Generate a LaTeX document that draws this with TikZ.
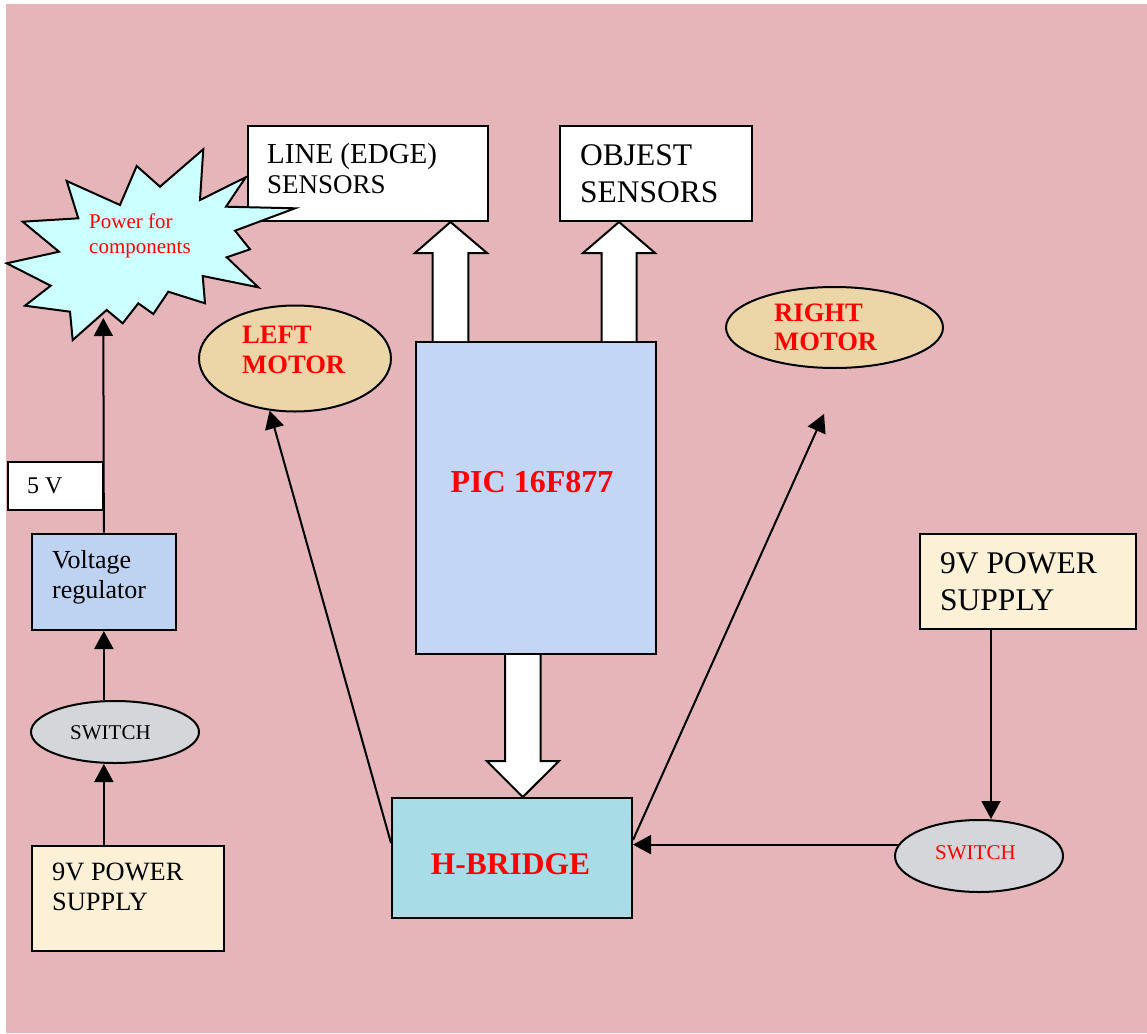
\documentclass[tikz,border=0pt]{standalone}
\usepackage{fontspec}
\setmainfont{Liberation Serif}
\usetikzlibrary{arrows.meta,calc,shapes.geometric}
\definecolor{bgpink}{RGB}{229,181,186}
\definecolor{burstcol}{RGB}{204,255,255}
\definecolor{tancol}{RGB}{236,214,168}
\definecolor{swcol}{RGB}{212,214,218}
\definecolor{piccol}{RGB}{196,214,246}
\definecolor{regcol}{RGB}{190,210,242}
\definecolor{creamcol}{RGB}{252,241,214}
\definecolor{hbrcol}{RGB}{168,220,230}
\newcommand\fsz[1]{\fontsize{#1}{#1}\selectfont}
\begin{document}
\begin{tikzpicture}[x=1pt,y=-1pt,
  blk/.style={draw=black,line width=2pt,rectangle,inner sep=0pt,anchor=north west},
  oval/.style={draw=black,line width=2pt,ellipse,inner sep=0pt},
  txt/.style={anchor=base west,inner sep=0pt,text=black},
  redb/.style={inner sep=0pt,text=red,font=\bfseries},
  conn/.style={line width=2pt,-{Triangle[length=18pt,width=19pt]}},
  fat/.style={draw=black,line width=2pt,fill=white,line join=miter}]
\useasboundingbox (0,0) rectangle (1147,1033);
\fill[white] (0,0) rectangle (1147,1033);
\fill[bgpink] (6,4) rectangle (1147,1033);

% sensor boxes
\node[blk,fill=white,minimum width=240pt,minimum height=95pt] (line) at (247,125) {};
\node[txt] (linet1) at (267,163) {\fsz{29}LINE (EDGE)};
\node[txt] (linet2) at (267,193) {\fsz{27}SENSORS};
\node[blk,fill=white,minimum width=192pt,minimum height=95pt] (obj) at (559,125) {};
\node[txt] (objt1) at (580,165) {\fsz{31.5}OBJEST};
\node[txt] (objt2) at (580,202) {\fsz{31.5}SENSORS};

% starburst
\draw[line width=2pt,fill=burstcol,line join=miter]
 (203.3,149.3) -- (200,200) -- (245.7,177.3) -- (226,206.7) -- (295,208.3)
 -- (235,230.7) -- (250,249.3) -- (226.7,257.3) -- (258.3,287.3) -- (202.7,276)
 -- (205,303.3) -- (168.3,291.7) -- (153.3,314) -- (138.3,303.3) -- (122.7,323.3)
 -- (106.7,310) -- (72.7,340) -- (70,311.7) -- (25,305.7) -- (50.7,285.7)
 -- (6.7,263.3) -- (59,251.7) -- (22.7,221.7) -- (78.3,218.3) -- (66.7,181)
 -- (120,205) -- (136.7,166) -- (160,186.7) -- cycle;
\node[anchor=base west,inner sep=0pt,text=red] (burst1) at (89,228) {\fsz{21}Power for};
\node[anchor=base west,inner sep=0pt,text=red] (burst2) at (89,253) {\fsz{21}components};
\coordinate (burstin) at (103.3,318);

% motors
\node[oval,fill=tancol,minimum width=192pt,minimum height=106pt] (lmot) at (295,358.5) {};
\node[redb,anchor=base west] (lmott1) at (242,343) {\fsz{26.6}LEFT};
\node[redb,anchor=base west] (lmott2) at (242,373) {\fsz{26.6}MOTOR};
\node[oval,fill=tancol,minimum width=217pt,minimum height=81pt] (rmot) at (834.5,327.5) {};
\node[redb,anchor=base west] (rmott1) at (774,321) {\fsz{26.6}RIGHT};
\node[redb,anchor=base west] (rmott2) at (774,350) {\fsz{26.6}MOTOR};

% PIC and H-bridge
\node[blk,fill=piccol,minimum width=240pt,minimum height=312pt] (pic) at (415,341) {};
\node[redb,anchor=base] (pict) at (532,492) {\fsz{32}PIC 16F877};
\node[blk,fill=hbrcol,minimum width=240pt,minimum height=120pt] (hbr) at (391,797) {};
\node[redb,anchor=base] (hbrt) at (510.5,874) {\fsz{31.5}H-BRIDGE};

% fat arrows
\coordinate (hA) at ($(line.south)+(0,31)$);
\draw[fat] (432.7,0 |- pic.north) -- (432.7,0 |- hA) -- (415,0 |- hA) -- (450.5,0 |- line.south)
  -- (487,0 |- hA) -- (468.3,0 |- hA) -- (468.3,0 |- pic.north);
\draw[fat] (601.7,0 |- pic.north) -- (601.7,0 |- hA) -- (583,0 |- hA) -- (619,0 |- obj.south)
  -- (655,0 |- hA) -- (636.7,0 |- hA) -- (636.7,0 |- pic.north);
\coordinate (hC) at ($(hbr.north)+(0,-36)$);
\draw[fat] (505,0 |- pic.south) -- (505,0 |- hC) -- (486.7,0 |- hC) -- (522.8,0 |- hbr.north)
  -- (559,0 |- hC) -- (540.7,0 |- hC) -- (540.7,0 |- pic.south);

% left power chain
\node[blk,fill=white,minimum width=95.6pt,minimum height=48.3pt] (five) at (6.7,460.7) {};
\node[txt] (fivet) at (27,493) {\fsz{24}5 V};
\node[blk,fill=regcol,minimum width=144.3pt,minimum height=96.3pt] (reg) at (30.7,532.7) {};
\node[txt] (regt1) at (52,568) {\fsz{26}Voltage};
\node[txt] (regt2) at (52,598) {\fsz{26}regulator};
\node[oval,fill=swcol,minimum width=168pt,minimum height=62pt] (lsw) at (115,732) {};
\node[txt] (lswt) at (70,739) {\fsz{21}SWITCH};
\node[blk,fill=creamcol,minimum width=192pt,minimum height=105pt] (lps) at (30.7,845) {};
\node[txt] (lpst1) at (52,880) {\fsz{26.4}9V POWER};
\node[txt] (lpst2) at (52,910) {\fsz{26.4}SUPPLY};

\draw[conn] (reg.south |- lps.north) -- (reg.south |- lsw.south);
\draw[conn] (reg.south |- lsw.north) -- (reg.south);
\draw[conn] (reg.north) -- (burstin);

% right power chain
\node[blk,fill=creamcol,minimum width=216.3pt,minimum height=95.6pt] (rps) at (919,532.7) {};
\node[txt] (rpst1) at (940,573) {\fsz{31.5}9V POWER};
\node[txt] (rpst2) at (940,610) {\fsz{31.5}SUPPLY};
\node[oval,fill=swcol,minimum width=168pt,minimum height=72pt] (rsw) at (979,856) {};
\node[anchor=base west,inner sep=0pt,text=red] (rswt) at (935,859) {\fsz{21}SWITCH};

\coordinate (c9) at ($(rps.south west)+(72,0)$);
\draw[conn] (c9) -- (c9 |- rsw.north);
\draw[conn] (rsw.172) -- (hbr.east |- rsw.172);

% motor connectors
\draw[conn] ($(hbr.north west)+(0,46)$) -- (lmot.244);
\coordinate (rmtip) at ($(rmot.south)+(-10.5,45)$);
\draw[conn] ($(hbr.north east)+(0,43)$) -- (rmtip);
\end{tikzpicture}
\end{document}
